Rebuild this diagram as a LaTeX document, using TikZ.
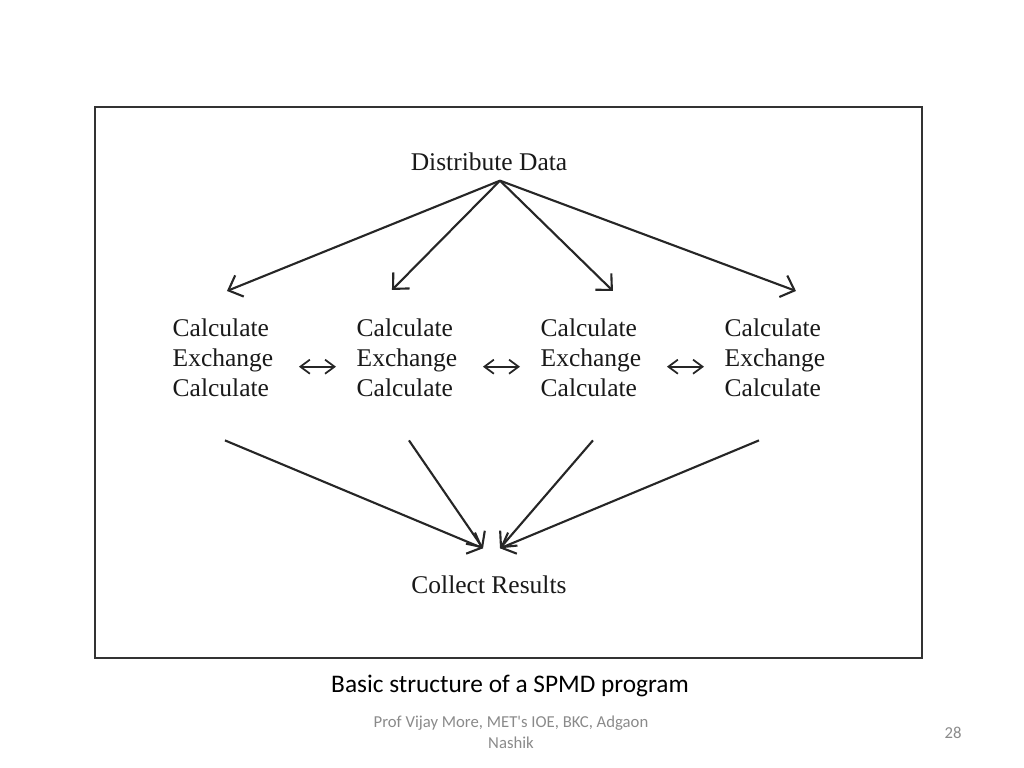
\documentclass[tikz,border=0pt]{standalone}
\usepackage{fontspec}
\setmainfont{Liberation Serif}
\newfontfamily\slidefont{Carlito}
\usetikzlibrary{arrows.meta}
\definecolor{footgray}{HTML}{8A8A8A}

\begin{document}
\begin{tikzpicture}[x=0.01cm,y=-0.01cm,
    every node/.style={inner sep=0pt},
    stage/.style={font=\fontsize{7.25}{8.54}\selectfont, text=black!90},
    worker/.style={stage, align=left, anchor=north west},
    flow/.style={draw=black!85, line width=0.6pt, -{Straight Barb[length=3.4pt,width=6.5pt]}},
    swap/.style={draw=black!85, line width=0.5pt,
        {Straight Barb[length=2.7pt,width=4pt]}-{Straight Barb[length=2.7pt,width=4pt]}}]
  \useasboundingbox (0,0) rectangle (1024,768);

  % Frame round the figure
  \draw[black!80, line width=0.75pt] (95,107) rectangle (922,658);

  % Start and end
  \node[stage] (dist) at (489,162) {Distribute Data};
  \node[stage] (collect) at (489,585) {Collect Results};
  \coordinate (fork) at ([shift={(11,9)}]dist.south);

  % The four processes
  \foreach \i/\x in {1/172,2/356,3/540,4/724}
    \node[worker] (proc\i) at (\x,318) {Calculate\\Exchange\\Calculate};

  % Distribute to the processes
  \foreach \i/\dx/\dy in {1/4/-27,2/-15/-28,3/22/-27,4/21/-27}
    \draw[flow] (fork) -- ([shift={(\dx,\dy)}]proc\i.north);

  % Exchange between neighbours
  \foreach \i/\j in {1/2,2/3,3/4}
    \draw[swap] ([shift={(25,9)}]proc\i.east) -- ([shift={(-20,9)}]proc\j.west);

  % Collect the results
  \foreach \i/\dx/\ex in {1/2/-6,2/2/-6,3/2/11,4/-16/11}
    \draw[flow] ([shift={(\dx,43)}]proc\i.south) -- ([shift={(\ex,-27)}]collect.north);

  % Caption and footer
  \node[font=\slidefont\fontsize{7.2}{8.6}\selectfont] (caption) at (510,686)
    {Basic structure of a SPMD program};
  \node[font=\slidefont\fontsize{4.75}{6}\selectfont, text=footgray, align=center] (footer)
    at (511,732) {Prof Vijay More, MET's IOE, BKC, Adgaon\\Nashik};
  \node[font=\slidefont\fontsize{4.75}{6}\selectfont, text=footgray] (pagenum) at (953,733) {28};
\end{tikzpicture}
\end{document}
